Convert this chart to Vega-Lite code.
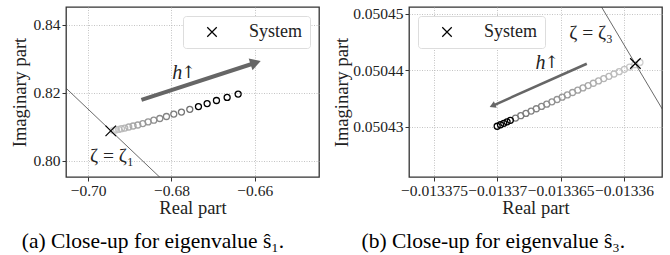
{
  "$schema": "https://vega.github.io/schema/vega-lite/v6.json",
  "padding": {"left": 10, "top": 6, "right": 0, "bottom": 0},
  "spacing": 11,
  "config": {
    "font": "Liberation Serif",
    "view": {"stroke": "#333333", "strokeWidth": 1.3},
    "axis": {
      "grid": true, "gridDash": [1, 1.5], "gridColor": "#b5b5b5", "gridWidth": 0.8,
      "domain": false, "ticks": true, "tickColor": "#333333", "tickSize": 4, "tickWidth": 1,
      "labelFont": "Liberation Serif", "labelFontSize": 15.5, "labelColor": "#222222", "labelPadding": 2,
      "titleFont": "Liberation Serif", "titleFontSize": 18.5, "titleFontWeight": "normal", "titleColor": "#222222"
    },
    "legend": {
      "labelFont": "Liberation Serif", "labelFontSize": 18, "labelColor": "#222222",
      "fillColor": "white", "strokeColor": "#dddddd", "cornerRadius": 3, "padding": 7,
      "symbolStrokeColor": "black", "symbolStrokeWidth": 1.2, "symbolFillColor": "transparent",
      "symbolSize": 90, "symbolOffset": 13, "labelOffset": 28, "offset": 9, "title": null
    },
    "title": {"font": "Liberation Serif", "fontSize": 21.5, "fontWeight": "normal", "color": "black"}
  },
  "resolve": {
    "scale": {"x": "independent", "y": "independent", "shape": "independent", "stroke": "independent"},
    "legend": {"shape": "independent"}
  },
  "hconcat": [
    {
      "width": 253, "height": 170,
      "title": {"text": "(a) Close-up for eigenvalue ŝ₁.", "orient": "bottom", "anchor": "middle", "frame": "bounds", "offset": 14, "dx": -12},
      "layer": [
        {
          "data": {"values": [{"x": -0.72, "y": 0.83845}, {"x": -0.67, "y": 0.78023}]},
          "mark": {"type": "line", "color": "#444444", "strokeWidth": 0.8, "clip": true},
          "encoding": {
            "x": {"field": "x", "type": "quantitative", "scale": {"domain": [-0.7053, -0.6446], "nice": false, "zero": false},
                  "axis": {"values": [-0.70, -0.68, -0.66], "format": ".2f", "title": "Real part", "titlePadding": 0}},
            "y": {"field": "y", "type": "quantitative", "scale": {"domain": [0.7952, 0.8452], "nice": false, "zero": false},
                  "axis": {"values": [0.80, 0.82, 0.84], "format": ".2f", "title": "Imaginary part", "titlePadding": 3}}
          }
        },
        {
          "data": {"values": [{"x": -0.6872, "y": 0.81786, "x2": -0.6598, "y2": 0.8288}]},
          "mark": {"type": "rule", "color": "#666666", "strokeWidth": 4},
          "encoding": {
            "x": {"field": "x", "type": "quantitative"}, "y": {"field": "y", "type": "quantitative"},
            "x2": {"field": "x2"}, "y2": {"field": "y2"}
          }
        },
        {
          "data": {"values": [{"x": -0.6598, "y": 0.8288}]},
          "mark": {"type": "point", "shape": "triangle-right", "filled": true, "color": "#666666", "size": 150, "angle": 342, "opacity": 1},
          "encoding": {"x": {"field": "x", "type": "quantitative"}, "y": {"field": "y", "type": "quantitative"}}
        },
        {
          "data": {"values": [
            {"x": -0.6940, "y": 0.8089, "h": 0}, {"x": -0.6936, "y": 0.8090, "h": 1},
            {"x": -0.6932, "y": 0.8091, "h": 2}, {"x": -0.69264, "y": 0.8092, "h": 3},
            {"x": -0.6920, "y": 0.8094, "h": 4}, {"x": -0.6912, "y": 0.8096, "h": 5},
            {"x": -0.69024, "y": 0.8099, "h": 6}, {"x": -0.6892, "y": 0.8102, "h": 7},
            {"x": -0.68808, "y": 0.8105, "h": 8}, {"x": -0.68688, "y": 0.8109, "h": 9},
            {"x": -0.6856, "y": 0.8114, "h": 10}, {"x": -0.68424, "y": 0.8119, "h": 11},
            {"x": -0.6828, "y": 0.8124, "h": 12}, {"x": -0.6812, "y": 0.8130, "h": 13},
            {"x": -0.67944, "y": 0.8137, "h": 14}, {"x": -0.6776, "y": 0.8143, "h": 15},
            {"x": -0.6756, "y": 0.8151, "h": 16}, {"x": -0.67352, "y": 0.8159, "h": 17},
            {"x": -0.67144, "y": 0.8168, "h": 18}, {"x": -0.6692, "y": 0.8177, "h": 19},
            {"x": -0.66664, "y": 0.8186, "h": 20}, {"x": -0.664, "y": 0.8196, "h": 21}
          ]},
          "mark": {"type": "point", "shape": "circle", "filled": false, "size": 36, "strokeWidth": 1.3, "opacity": 1},
          "encoding": {
            "x": {"field": "x", "type": "quantitative"}, "y": {"field": "y", "type": "quantitative"},
            "stroke": {"field": "h", "type": "quantitative", "legend": null,
                       "scale": {"domain": [0, 16, 17, 21], "range": ["#d8d8d8", "#707070", "#000000", "#000000"]}}
          }
        },
        {
          "data": {"values": [{"x": -0.69456, "y": 0.80878, "series": "System"}]},
          "mark": {"type": "point", "filled": false, "size": 110, "strokeWidth": 1.2, "color": "black", "opacity": 1},
          "encoding": {
            "x": {"field": "x", "type": "quantitative"}, "y": {"field": "y", "type": "quantitative"},
            "shape": {"field": "series", "type": "nominal", "scale": {"range": ["M-1,-1L1,1M-1,1L1,-1"]},
                      "legend": {"orient": "top-right"}}
          }
        },
        {
          "data": {"values": [{"x": -0.6774, "y": 0.8257, "t": "h"}]},
          "mark": {"type": "text", "fontSize": 20, "fontStyle": "italic", "color": "#222222", "align": "right"},
          "encoding": {"x": {"field": "x", "type": "quantitative"}, "y": {"field": "y", "type": "quantitative"}, "text": {"field": "t"}}
        },
        {
          "data": {"values": [{"x": -0.6774, "y": 0.8257, "t": "↑"}]},
          "mark": {"type": "text", "fontSize": 17, "font": "DejaVu Serif", "color": "#222222", "align": "left", "dx": -1},
          "encoding": {"x": {"field": "x", "type": "quantitative"}, "y": {"field": "y", "type": "quantitative"}, "text": {"field": "t"}}
        },
        {
          "data": {"values": [{"x": -0.6943, "y": 0.80127, "t": "ζ = ζ₁"}]},
          "mark": {"type": "text", "fontSize": 19.5, "color": "#222222"},
          "encoding": {"x": {"field": "x", "type": "quantitative"}, "y": {"field": "y", "type": "quantitative"}, "text": {"field": "t"}}
        }
      ]
    },
    {
      "width": 253, "height": 170,
      "title": {"text": "(b) Close-up for eigenvalue ŝ₃.", "orient": "bottom", "anchor": "middle", "frame": "bounds", "offset": 14, "dx": -4},
      "layer": [
        {
          "data": {"values": [{"x": -0.013364, "y": 0.0504596}, {"x": -0.013354, "y": 0.0504219}]},
          "mark": {"type": "line", "color": "#444444", "strokeWidth": 0.8, "clip": true},
          "encoding": {
            "x": {"field": "x", "type": "quantitative", "scale": {"domain": [-0.013376969, -0.013357], "nice": false, "zero": false},
                  "axis": {"values": [-0.013375, -0.01337, -0.013365, -0.01336], "format": ".6~f", "title": "Real part", "titlePadding": 0}},
            "y": {"field": "y", "type": "quantitative", "scale": {"domain": [0.0504211, 0.0504512], "nice": false, "zero": false},
                  "axis": {"values": [0.05043, 0.05044, 0.05045], "format": ".5f", "title": "Imaginary part", "titlePadding": 1}}
          }
        },
        {
          "data": {"values": [{"x": -0.013362937, "y": 0.05044115, "x2": -0.01337038, "y2": 0.05043371}]},
          "mark": {"type": "rule", "color": "#666666", "strokeWidth": 2.5},
          "encoding": {
            "x": {"field": "x", "type": "quantitative"}, "y": {"field": "y", "type": "quantitative"},
            "x2": {"field": "x2"}, "y2": {"field": "y2"}
          }
        },
        {
          "data": {"values": [{"x": -0.01337038, "y": 0.05043371}]},
          "mark": {"type": "point", "shape": "triangle-right", "filled": true, "color": "#666666", "size": 50, "angle": 156, "opacity": 1},
          "encoding": {"x": {"field": "x", "type": "quantitative"}, "y": {"field": "y", "type": "quantitative"}}
        },
        {
          "data": {"values": [
            {"x": -0.01335874, "y": 0.05044139, "h": 0}, {"x": -0.01335915, "y": 0.05044098, "h": 1},
            {"x": -0.01335956, "y": 0.05044057, "h": 2}, {"x": -0.01335997, "y": 0.05044016, "h": 3},
            {"x": -0.01336038, "y": 0.05043975, "h": 4}, {"x": -0.01336079, "y": 0.05043934, "h": 5},
            {"x": -0.01336119, "y": 0.05043893, "h": 6}, {"x": -0.01336160, "y": 0.05043852, "h": 7},
            {"x": -0.01336201, "y": 0.05043811, "h": 8}, {"x": -0.01336242, "y": 0.05043770, "h": 9},
            {"x": -0.01336283, "y": 0.05043729, "h": 10}, {"x": -0.01336324, "y": 0.05043688, "h": 11},
            {"x": -0.01336365, "y": 0.05043647, "h": 12}, {"x": -0.01336406, "y": 0.05043606, "h": 13},
            {"x": -0.01336447, "y": 0.05043564, "h": 14}, {"x": -0.01336488, "y": 0.05043523, "h": 15},
            {"x": -0.01336528, "y": 0.05043482, "h": 16}, {"x": -0.01336569, "y": 0.05043441, "h": 17},
            {"x": -0.01336610, "y": 0.05043400, "h": 18}, {"x": -0.01336651, "y": 0.05043359, "h": 19},
            {"x": -0.01336692, "y": 0.05043318, "h": 20}, {"x": -0.01336733, "y": 0.05043277, "h": 21},
            {"x": -0.01336774, "y": 0.05043236, "h": 22}, {"x": -0.01336815, "y": 0.05043195, "h": 23},
            {"x": -0.01336856, "y": 0.05043154, "h": 24}, {"x": -0.01336897, "y": 0.05043113, "h": 25},
            {"x": -0.01336923, "y": 0.05043087, "h": 26}, {"x": -0.01336949, "y": 0.05043061, "h": 27},
            {"x": -0.01336975, "y": 0.05043035, "h": 28}, {"x": -0.01337001, "y": 0.05043009, "h": 29}
          ]},
          "mark": {"type": "point", "shape": "circle", "filled": false, "size": 36, "strokeWidth": 1.3, "opacity": 1},
          "encoding": {
            "x": {"field": "x", "type": "quantitative"}, "y": {"field": "y", "type": "quantitative"},
            "stroke": {"field": "h", "type": "quantitative", "legend": null,
                       "scale": {"domain": [0, 24, 25, 29], "range": ["#d0d0d0", "#777777", "#000000", "#000000"]}}
          }
        },
        {
          "data": {"values": [{"x": -0.0133591, "y": 0.0504412, "series": "System"}]},
          "mark": {"type": "point", "filled": false, "size": 110, "strokeWidth": 1.2, "color": "black", "opacity": 1},
          "encoding": {
            "x": {"field": "x", "type": "quantitative"}, "y": {"field": "y", "type": "quantitative"},
            "shape": {"field": "series", "type": "nominal", "scale": {"range": ["M-1,-1L1,1M-1,1L1,-1"]},
                      "legend": {"orient": "top-left"}}
          }
        },
        {
          "data": {"values": [{"x": -0.01336620, "y": 0.05044127, "t": "h"}]},
          "mark": {"type": "text", "fontSize": 20, "fontStyle": "italic", "color": "#222222", "align": "right"},
          "encoding": {"x": {"field": "x", "type": "quantitative"}, "y": {"field": "y", "type": "quantitative"}, "text": {"field": "t"}}
        },
        {
          "data": {"values": [{"x": -0.01336620, "y": 0.05044127, "t": "↑"}]},
          "mark": {"type": "text", "fontSize": 17, "font": "DejaVu Serif", "color": "#222222", "align": "left", "dx": -1},
          "encoding": {"x": {"field": "x", "type": "quantitative"}, "y": {"field": "y", "type": "quantitative"}, "text": {"field": "t"}}
        },
        {
          "data": {"values": [{"x": -0.0133626, "y": 0.0504466, "t": "ζ = ζ₃"}]},
          "mark": {"type": "text", "fontSize": 19.5, "color": "#222222"},
          "encoding": {"x": {"field": "x", "type": "quantitative"}, "y": {"field": "y", "type": "quantitative"}, "text": {"field": "t"}}
        }
      ]
    }
  ]
}
